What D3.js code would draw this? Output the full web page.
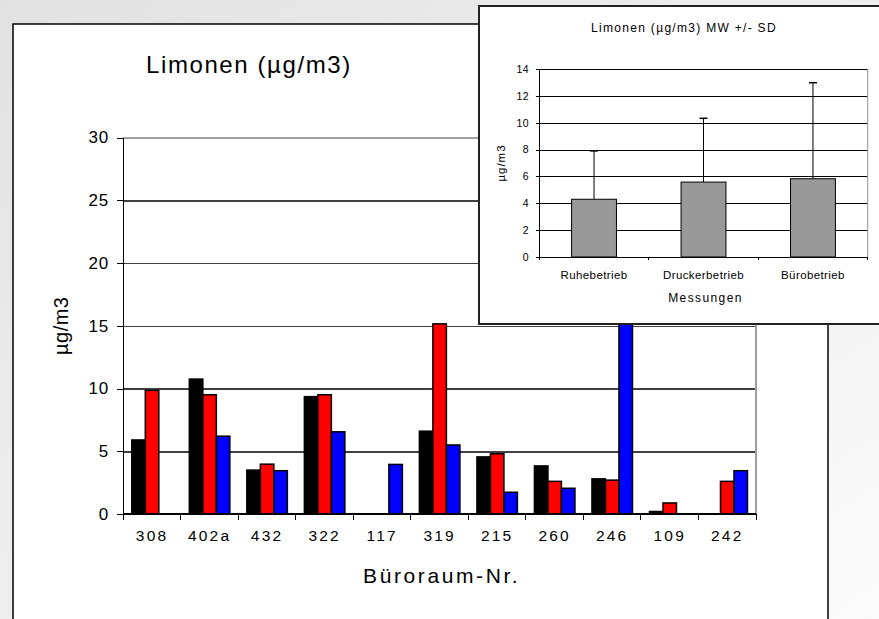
<!DOCTYPE html>
<html>
<head>
<meta charset="utf-8">
<script src="https://cdn.jsdelivr.net/npm/d3@7"></script>
<style>
  html, body { margin: 0; padding: 0; background: #fff; }
  svg { display: block; font-family: "Liberation Sans", Arial, sans-serif; }
  .axis path, .axis line { stroke: #000; shape-rendering: crispEdges; }
  .grid line { shape-rendering: crispEdges; }
  .grid path { display: none; }
</style>
</head>
<body>
<div id="chart"></div>
<script>
// main chart: Limonen per office room, three measurement series
const rooms = ["308", "402a", "432", "322", "117", "319", "215", "260", "246", "109", "242"];
const seriesKeys = ["Ruhebetrieb", "Druckerbetrieb", "Bürobetrieb"];
const seriesColors = ["#000000", "#ff0000", "#0000ff"];
const ruhe = [5.9, 10.75, 3.5, 9.35, 0, 6.6, 4.55, 3.83, 2.8, 0.2, 0];
const drucker = [9.85, 9.5, 3.97, 9.5, 0, 15.15, 4.8, 2.6, 2.7, 0.88, 2.6];
const buero = [0, 6.2, 3.45, 6.55, 3.95, 5.5, 1.73, 2.05, 26, 0, 3.45];
const mainTicks = [0, 5, 10, 15, 20, 25, 30];

// inset: mean +/- SD per measurement mode
const modes = ["Ruhebetrieb", "Druckerbetrieb", "Bürobetrieb"];
const means = [4.3, 5.58, 5.83];
const sds = [3.6, 4.75, 7.15];
const insetTicks = [0, 2, 4, 6, 8, 10, 12, 14];

const W = 879, H = 619;
const FONT = "Liberation Sans, Arial, sans-serif";

const svg = d3.select("#chart").append("svg").attr("width", W).attr("height", H);

const drawBackground = () => {
  const g = svg.append("defs").append("linearGradient")
    .attr("id", "bg").attr("x1", 0).attr("y1", 0).attr("x2", 1).attr("y2", 1);
  g.append("stop").attr("offset", "0").attr("stop-color", "#e2e2e2");
  g.append("stop").attr("offset", "1").attr("stop-color", "#fbfbfb");
  svg.append("rect").attr("width", W).attr("height", H).attr("fill", "url(#bg)");
};

const drawMain = () => {
  svg.append("rect")
    .attr("x", 13).attr("y", 24).attr("width", 815).attr("height", 620)
    .attr("fill", "#fff").attr("stroke", "#000").attr("stroke-width", 1.5);

  const left = 123.3, right = 756, top = 137.5, bottom = 514;
  const x0 = d3.scaleBand().domain(rooms).range([left, right]).padding(0);
  const x1 = d3.scaleBand().domain(seriesKeys).range([0, x0.bandwidth()])
    .paddingInner(0).paddingOuter(0.63);
  const y = d3.scaleLinear().domain([0, 30]).range([bottom, top]);

  // gridlines
  svg.append("g").attr("class", "grid")
    .attr("transform", `translate(${left},0)`)
    .call(d3.axisLeft(y).tickValues(mainTicks.slice(1)).tickSize(-(right - left)).tickFormat(""))
    .selectAll("line")
    .attr("stroke", (d) => (d === 30 ? "#a0a0a0" : "#404040"))
    .attr("stroke-width", (d) => (d === 30 ? 2 : 1.5));
  svg.append("line")
    .attr("x1", right).attr("x2", right).attr("y1", top).attr("y2", bottom)
    .attr("stroke", "#a0a0a0").attr("stroke-width", 2);

  // bars
  svg.append("clipPath").attr("id", "mainclip")
    .append("rect").attr("x", left).attr("y", top).attr("width", right - left).attr("height", bottom - top);
  const values = [ruhe, drucker, buero];
  const bars = [];
  rooms.forEach((r, i) => seriesKeys.forEach((k, j) => bars.push({ room: r, key: k, color: seriesColors[j], v: values[j][i] })));
  svg.append("g").attr("clip-path", "url(#mainclip)")
    .selectAll("rect")
    .data(bars.filter((b) => b.v > 0))
    .enter()
    .append("rect")
    .attr("x", (b) => x0(b.room) + x1(b.key))
    .attr("y", (b) => y(b.v))
    .attr("width", x1.bandwidth())
    .attr("height", (b) => y(0) - y(b.v))
    .attr("fill", (b) => b.color)
    .attr("stroke", "#000")
    .attr("stroke-width", 1.5);

  // y axis
  const ya = svg.append("g").attr("class", "axis")
    .attr("transform", `translate(${left},0)`)
    .call(d3.axisLeft(y).tickValues(mainTicks).tickSize(6).tickPadding(8));
  ya.select("path").attr("d", `M0,${top}V${bottom}`).attr("stroke-width", 1.5);
  ya.selectAll("text").attr("font-size", 17).attr("fill", "#000")
    .attr("letter-spacing", 1).attr("font-family", FONT);

  // x axis: labels at band centres, ticks on band boundaries
  const xa = svg.append("g").attr("class", "axis")
    .attr("transform", `translate(0,${bottom})`)
    .call(d3.axisBottom(x0).tickSize(0).tickPadding(16));
  xa.select("path").attr("d", `M${left},0H${right}`).attr("stroke-width", 1.5);
  xa.selectAll("text").attr("font-size", 15.5).attr("fill", "#000")
    .attr("letter-spacing", 2.2).attr("font-family", FONT);
  xa.selectAll(".bound")
    .data(rooms.map((r) => x0(r)).concat([right]))
    .enter()
    .append("line")
    .attr("class", "bound")
    .attr("x1", (d) => d).attr("x2", (d) => d)
    .attr("y1", 0).attr("y2", 6)
    .attr("stroke", "#000");

  svg.append("text")
    .attr("x", 146).attr("y", 72.5)
    .attr("font-size", 24).attr("letter-spacing", 1.6)
    .text("Limonen (µg/m3)");
  svg.append("text")
    .attr("x", (left + right) / 2 + 2).attr("y", 583)
    .attr("text-anchor", "middle").attr("font-size", 21).attr("letter-spacing", 2.6)
    .text("Büroraum-Nr.");
  svg.append("text")
    .attr("transform", `translate(68,${(top + bottom) / 2}) rotate(-90)`)
    .attr("text-anchor", "middle").attr("font-size", 20).attr("letter-spacing", 0.5)
    .text("µg/m3");
};

const drawInset = () => {
  svg.append("rect")
    .attr("x", 479).attr("y", 6).attr("width", 420).attr("height", 318)
    .attr("fill", "#fff").attr("stroke", "#222").attr("stroke-width", 2);

  const left = 539.3, right = 867.7, top = 69, bottom = 257;
  const x = d3.scaleBand().domain(modes).range([left, right]).padding(0);
  const y = d3.scaleLinear().domain([0, 14]).range([bottom, top]);
  const barW = x.bandwidth() * 0.41;

  svg.append("g").attr("class", "grid")
    .attr("transform", `translate(${left},0)`)
    .call(d3.axisLeft(y).tickValues(insetTicks.slice(1)).tickSize(-(right - left)).tickFormat(""))
    .selectAll("line").attr("stroke", "#000").attr("stroke-width", 1);
  svg.append("line")
    .attr("x1", right).attr("x2", right).attr("y1", top).attr("y2", bottom)
    .attr("stroke", "#909090").attr("stroke-width", 1);

  const rows = modes.map((m, i) => ({ m, mean: means[i], sd: sds[i] }));
  const cx = (d) => x(d.m) + x.bandwidth() / 2;
  svg.append("g").selectAll("line")
    .data(rows).enter().append("line")
    .attr("x1", cx).attr("x2", cx)
    .attr("y1", (d) => y(d.mean)).attr("y2", (d) => y(d.mean + d.sd))
    .attr("stroke", "#000");
  svg.append("g").selectAll("line")
    .data(rows).enter().append("line")
    .attr("x1", (d) => cx(d) - 4).attr("x2", (d) => cx(d) + 4)
    .attr("y1", (d) => y(d.mean + d.sd)).attr("y2", (d) => y(d.mean + d.sd))
    .attr("stroke", "#000").attr("stroke-width", 1.5);
  svg.append("g").selectAll("rect")
    .data(rows).enter().append("rect")
    .attr("x", (d) => cx(d) - barW / 2)
    .attr("y", (d) => y(d.mean))
    .attr("width", barW)
    .attr("height", (d) => y(0) - y(d.mean))
    .attr("fill", "#999999").attr("stroke", "#000").attr("stroke-width", 1);

  const ya = svg.append("g").attr("class", "axis")
    .attr("transform", `translate(${left},0)`)
    .call(d3.axisLeft(y).tickValues(insetTicks).tickSize(3).tickPadding(7));
  ya.select("path").attr("d", `M0,${top}V${bottom}`);
  ya.selectAll("text").attr("font-size", 10.5).attr("fill", "#000").attr("letter-spacing", 0.6)
    .attr("font-family", FONT);

  const xa = svg.append("g").attr("class", "axis")
    .attr("transform", `translate(0,${bottom})`)
    .call(d3.axisBottom(x).tickSize(0).tickPadding(14));
  xa.select("path").attr("d", `M${left},0H${right}`);
  xa.selectAll("text").attr("font-size", 11.5).attr("fill", "#000").attr("letter-spacing", 0.4)
    .attr("font-family", FONT);
  xa.selectAll(".bound")
    .data(modes.map((m) => x(m)).concat([right]))
    .enter().append("line").attr("class", "bound")
    .attr("x1", (d) => d).attr("x2", (d) => d).attr("y1", 0).attr("y2", 3)
    .attr("stroke", "#000");

  svg.append("text")
    .attr("x", 684).attr("y", 31.5).attr("text-anchor", "middle")
    .attr("font-size", 12).attr("letter-spacing", 1.3)
    .text("Limonen (µg/m3) MW +/- SD");
  svg.append("text")
    .attr("x", (left + right) / 2 + 2).attr("y", 302).attr("text-anchor", "middle")
    .attr("font-size", 12).attr("letter-spacing", 1.4)
    .text("Messungen");
  svg.append("text")
    .attr("transform", `translate(504.5,${(top + bottom) / 2}) rotate(-90)`)
    .attr("text-anchor", "middle").attr("font-size", 11.5).attr("letter-spacing", 1)
    .text("µg/m3");
};

drawBackground();
drawMain();
drawInset();
</script>
</body>
</html>
